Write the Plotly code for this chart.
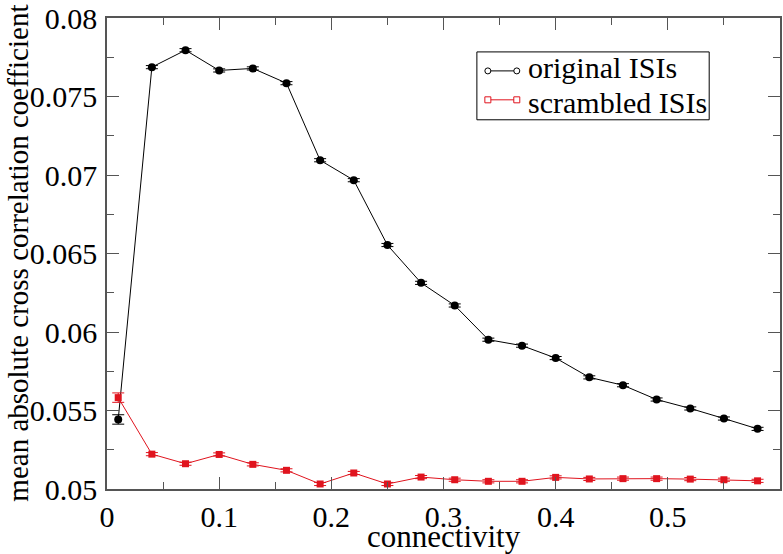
import plotly.graph_objects as go

connectivity = [0.01, 0.04, 0.07, 0.10, 0.13, 0.16, 0.19, 0.22, 0.25, 0.28,
                0.31, 0.34, 0.37, 0.40, 0.43, 0.46, 0.49, 0.52, 0.55, 0.58]
original = [0.05443, 0.07687, 0.07795, 0.07666, 0.07679, 0.07585, 0.07094, 0.06967,
            0.06554, 0.06313, 0.06169, 0.05951, 0.05913, 0.05834, 0.05711, 0.05661,
            0.05570, 0.05513, 0.05449, 0.05383]
original_err = [0.0003, 0.0001, 0.0001, 0.0001, 0.0001, 0.0001, 0.0001, 0.0001,
                0.0001, 0.0001, 0.0001, 0.0001, 0.0001, 0.0001, 0.0001, 0.0001,
                0.0001, 0.0001, 0.0001, 0.0001]
scrambled = [0.05582, 0.05222, 0.05161, 0.05220, 0.05157, 0.05119, 0.05032, 0.05102,
             0.05032, 0.05076, 0.05059, 0.05049, 0.05049, 0.05074, 0.05064, 0.05066,
             0.05066, 0.05063, 0.05059, 0.05052]
scrambled_err = [0.0003, 0.0001, 0.0001, 0.0001, 0.0001, 0.0001, 0.0001, 0.0001,
                 0.0001, 0.0001, 0.0001, 0.0001, 0.0001, 0.0001, 0.0001, 0.0001,
                 0.0001, 0.0001, 0.0001, 0.0001]
series_names = ["original ISIs", "scrambled ISIs"]
x_ticks = [0, 0.1, 0.2, 0.3, 0.4, 0.5]
x_ticktext = ["0", "0.1", "0.2", "0.3", "0.4", "0.5"]
y_ticks = [0.05, 0.055, 0.06, 0.065, 0.07, 0.075, 0.08]
y_ticktext = ["0.05", "0.055", "0.06", "0.065", "0.07", "0.075", "0.08"]
x_title = "connectivity"
y_title = "mean absolute cross correlation coefficient"

FONT = "Liberation Serif"
RED = "#e0141e"
AXC = "#555555"

fig = go.Figure()
fig.add_trace(go.Scatter(
    x=connectivity, y=original, mode="lines+markers", name=series_names[0],
    showlegend=False,
    line=dict(color="black", width=1),
    marker=dict(symbol="circle", size=8, color="black"),
    error_y=dict(type="data", array=original_err, color="black", thickness=1, width=6)))
fig.add_trace(go.Scatter(
    x=connectivity, y=scrambled, mode="lines+markers", name=series_names[1],
    showlegend=False,
    line=dict(color=RED, width=1),
    marker=dict(symbol="square", size=7, color=RED),
    error_y=dict(type="data", array=scrambled_err, color=RED, thickness=1, width=6)))

axis_common = dict(
    showline=True, linecolor=AXC, linewidth=1.5, mirror="allticks",
    ticks="inside", ticklen=12, tickwidth=1, tickcolor=AXC,
    showgrid=False, zeroline=False,
    tickfont=dict(family=FONT, size=30, color="black"),
)

# ---- legend box (xmgrace style: line with open symbols at both ends) ----
lx0, lx1, ly_top, ly_bot = 0.5496, 0.8948, 0.928, 0.7839
row_y = [0.8877, 0.8263]
sym_x = [0.5659, 0.6089]
text_y = [0.8943, 0.8201]
colors = ["black", RED]
shapes = [dict(type="rect", xref="paper", yref="paper", x0=lx0, x1=lx1, y0=ly_bot, y1=ly_top,
               line=dict(color="black", width=1), fillcolor="white", layer="above")]
annotations = []
for i in range(2):
    shapes.append(dict(type="line", xref="paper", yref="paper", x0=sym_x[0], x1=sym_x[1],
                       y0=row_y[i], y1=row_y[i], line=dict(color=colors[i], width=1)))
    for sx in sym_x:
        shapes.append(dict(type="circle" if i == 0 else "rect",
                           xref="paper", yref="paper", xsizemode="pixel", ysizemode="pixel",
                           xanchor=sx, yanchor=row_y[i], x0=-3, x1=3, y0=-3, y1=3,
                           line=dict(color=colors[i], width=1), fillcolor="white"))
    annotations.append(dict(xref="paper", yref="paper", x=0.6222, y=text_y[i],
                            xanchor="left", yanchor="middle", showarrow=False,
                            text=series_names[i],
                            font=dict(family=FONT, size=30, color="black")))

# ---- axis titles ----
annotations.append(dict(xref="paper", yref="paper", x=0.5, y=-0.1,
                        xanchor="center", yanchor="middle", showarrow=False,
                        text=x_title, font=dict(family=FONT, size=31, color="black")))
annotations.append(dict(xref="paper", yref="paper", x=-0.1335, y=0.5,
                        xanchor="center", yanchor="middle", showarrow=False, textangle=-90,
                        text=y_title, font=dict(family=FONT, size=29, color="black")))

fig.update_layout(
    width=783, height=554,
    margin=dict(l=107, r=1, t=17, b=65),
    paper_bgcolor="white", plot_bgcolor="white",
    font=dict(family=FONT, color="black", size=30),
    showlegend=False,
    xaxis=dict(
        range=[0, 0.6], tickvals=x_ticks, ticktext=x_ticktext,
        minor=dict(ticks="inside", ticklen=7, tickcolor=AXC, dtick=0.05, tick0=0),
        ticklabelstandoff=0,
        **axis_common),
    yaxis=dict(
        range=[0.05, 0.08], tickvals=y_ticks, ticktext=y_ticktext,
        minor=dict(ticks="inside", ticklen=7, tickcolor=AXC, dtick=0.0025, tick0=0.05),
        ticklabelstandoff=2,
        **axis_common),
    shapes=shapes,
    annotations=annotations,
)

fig.write_html("out.html", config={"displayModeBar": False},
               post_script="document.body.style.margin='0';document.body.style.overflow='hidden';")
